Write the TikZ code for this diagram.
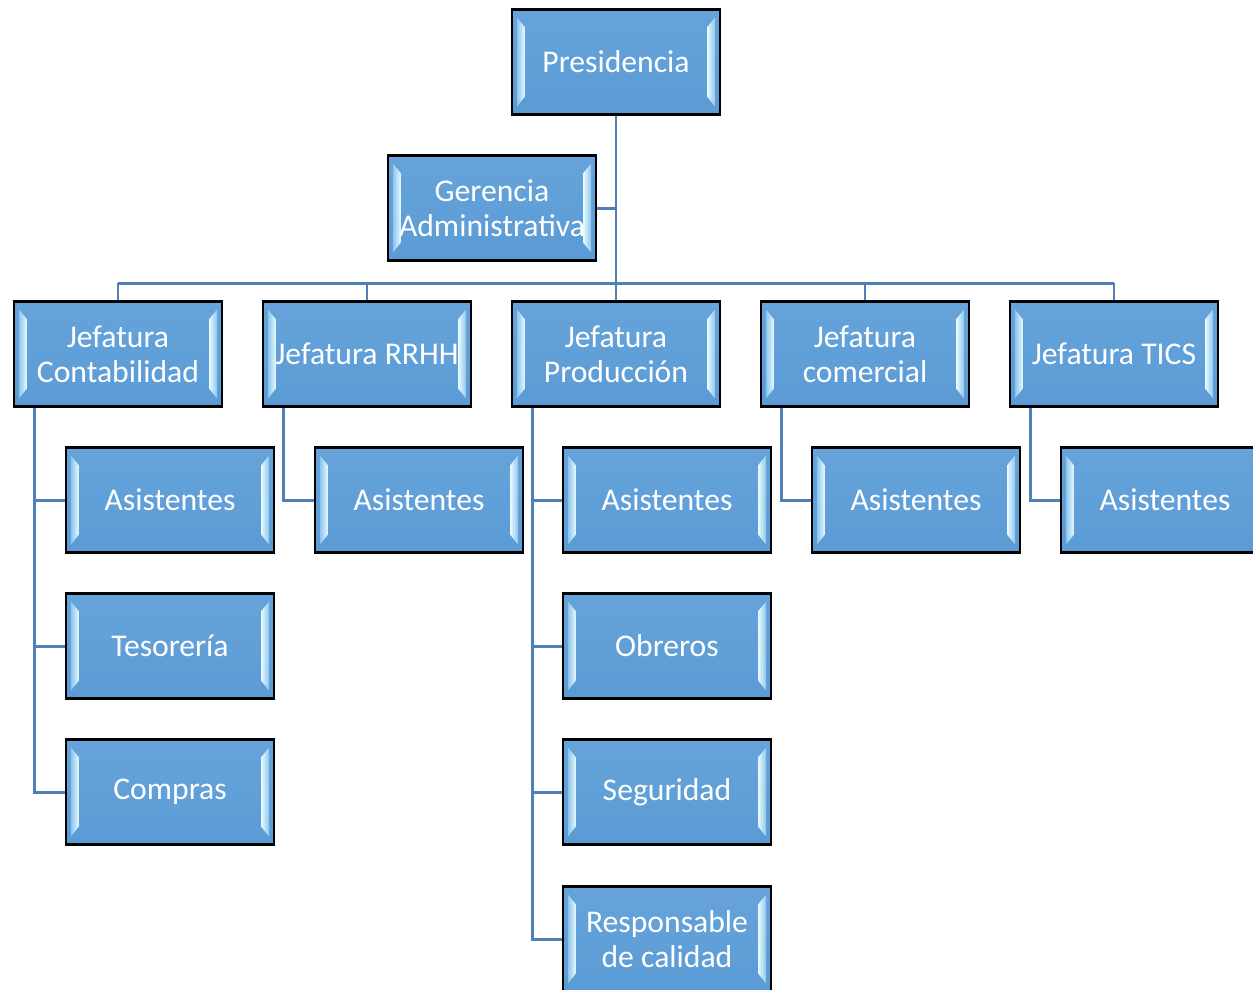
\documentclass[tikz,border=0pt]{standalone}
\usepackage{fontspec}
\setmainfont{Carlito}
\usetikzlibrary{calc}
\definecolor{boxblue}{HTML}{5B9BD5}
\definecolor{boxtop}{HTML}{66A3DA}
\definecolor{bevelhi}{HTML}{EAFBFF}
\definecolor{bevello}{HTML}{8CC6EC}
\definecolor{linkblue}{HTML}{4F81B8}
\tikzset{
  orgbox/.style={
    draw=black, line width=0.6pt,
    top color=boxtop, bottom color=boxblue,
    minimum width=2.08cm, minimum height=1.05cm,
    inner sep=0pt, align=center, text=white,
    font=\fontsize{9pt}{9.9pt}\selectfont,
    path picture={
      \coordinate (nw) at (path picture bounding box.north west);
      \coordinate (ne) at (path picture bounding box.north east);
      \shade[left color=bevello, right color=bevelhi]
        ($(nw)+(5,8)$) -- ($(nw)+(5,97)$) -- ($(nw)+(13,87)$) -- ($(nw)+(13,18)$) -- cycle;
      \shade[left color=bevelhi, right color=bevello]
        ($(ne)+(-5,8)$) -- ($(ne)+(-5,97)$) -- ($(ne)+(-13,87)$) -- ($(ne)+(-13,18)$) -- cycle;
    }
  },
  link/.style={draw=linkblue, line width=0.85pt}
}
\begin{document}
\begin{tikzpicture}[x=0.01cm, y=-0.01cm]
\useasboundingbox (0,0) rectangle (1253,990);

% top of the hierarchy
\node[orgbox] (pres) at (616,62) {Presidencia};
\node[orgbox] (ger) at (492,208) {Gerencia\\Administrativa};

% department heads
\node[orgbox] (jcont) at (118,354) {Jefatura\\Contabilidad};
\node[orgbox] (jrrhh) at (367,354) {Jefatura RRHH};
\node[orgbox] (jprod) at (616,354) {Jefatura\\Producción};
\node[orgbox] (jcom)  at (865,354) {Jefatura\\comercial};
\node[orgbox] (jtics) at (1114,354) {Jefatura TICS};

% Contabilidad staff
\node[orgbox] (cAsis) at (170,500) {Asistentes};
\node[orgbox] (cTes)  at (170,646) {Tesorería};
\node[orgbox] (cComp) at (170,792) {Compras};

% RRHH staff
\node[orgbox] (rAsis) at (419,500) {Asistentes};

% Producción staff
\node[orgbox] (pAsis) at (667,500) {Asistentes};
\node[orgbox] (pObr)  at (667,646) {Obreros};
\node[orgbox] (pSeg)  at (667,792) {Seguridad};
\node[orgbox] (pResp) at (667,939) {Responsable\\de calidad};

% comercial staff
\node[orgbox] (mAsis) at (916,500) {Asistentes};

% TICS staff
\node[orgbox] (tAsis) at (1165,500) {Asistentes};

% main bus
\coordinate (busL) at (118,283);
\coordinate (busR) at (1114,283);
\draw[link] (pres.south) -- (pres.south |- busL);
\draw[link] (ger.east) -- (ger.east -| pres.south);
\draw[link] (busL) -- (busR);
\foreach \j in {jcont,jrrhh,jprod,jcom,jtics}
  \draw[link] (\j.north) -- (\j.north |- busL);

% staff spines
\coordinate (sC) at ($(jcont.south west)+(22,0)$);
\coordinate (sR) at ($(jrrhh.south west)+(22,0)$);
\coordinate (sP) at ($(jprod.south west)+(22,0)$);
\coordinate (sM) at ($(jcom.south west)+(22,0)$);
\coordinate (sT) at ($(jtics.south west)+(22,0)$);
\draw[link] (sC) |- (cAsis.west);
\draw[link] (sC) |- (cTes.west);
\draw[link] (sC) |- (cComp.west);
\draw[link] (sR) |- (rAsis.west);
\draw[link] (sP) |- (pAsis.west);
\draw[link] (sP) |- (pObr.west);
\draw[link] (sP) |- (pSeg.west);
\draw[link] (sP) |- (pResp.west);
\draw[link] (sM) |- (mAsis.west);
\draw[link] (sT) |- (tAsis.west);
\end{tikzpicture}
\end{document}
